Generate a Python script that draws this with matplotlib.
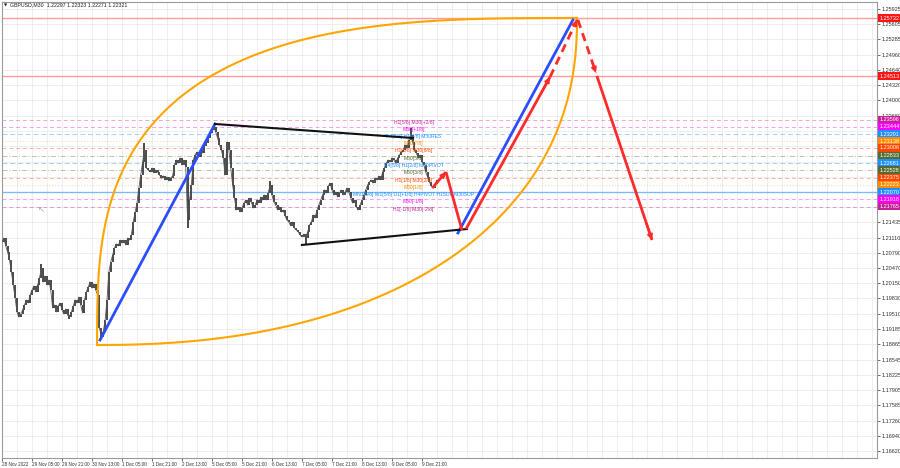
import numpy as np
import matplotlib.pyplot as plt
from matplotlib.transforms import blended_transform_factory

plt.rcParams['font.family'] = ['Liberation Sans', 'DejaVu Sans']

# GBPUSD M30 closes, one per bar
closes = [
    1.21019, 1.21103, 1.20935, 1.20809, 1.20640, 1.20388, 1.20114, 1.19840, 1.19546, 1.19440,
    1.19503, 1.19588, 1.19693, 1.19798, 1.19735, 1.19903, 1.20009, 1.20093, 1.19967, 1.20114,
    1.20261, 1.20472, 1.20177, 1.20303, 1.20114, 1.20219, 1.20009, 1.19630, 1.19693, 1.19546,
    1.19672, 1.19735, 1.19588, 1.19503, 1.19609, 1.19482, 1.19440, 1.19546, 1.19672, 1.19798,
    1.19735, 1.19861, 1.19693, 1.19524, 1.19798, 1.19967, 1.20072, 1.20177, 1.20051, 1.20135,
    1.20009, 1.19903, 1.19209, 1.19019, 1.19124, 1.19377, 1.19798, 1.20388, 1.20598, 1.20746,
    1.20893, 1.20977, 1.20935, 1.21061, 1.20998, 1.21061, 1.20956, 1.21103, 1.21061, 1.21167,
    1.21440, 1.21651, 1.21840, 1.22156, 1.22430, 1.22703, 1.22956, 1.22577, 1.22535, 1.22493,
    1.22577, 1.22472, 1.22535, 1.22493, 1.22430, 1.22367, 1.22409, 1.22325, 1.22388, 1.22303,
    1.22367, 1.22409, 1.22640, 1.22746, 1.22682, 1.22788, 1.22640, 1.22746, 1.22598, 1.21482,
    1.21903, 1.22219, 1.22746, 1.22851, 1.22914, 1.22809, 1.22956, 1.22893, 1.23040, 1.23103,
    1.23209, 1.23314, 1.23377, 1.23440, 1.23335, 1.23209, 1.23061, 1.22956, 1.22788, 1.22430,
    1.23125, 1.22956, 1.22577, 1.22219, 1.21946, 1.21693, 1.21756, 1.21651, 1.21735, 1.21840,
    1.21903, 1.21798, 1.21946, 1.21861, 1.21735, 1.21798, 1.21903, 1.21840, 1.21967, 1.21903,
    1.22009, 1.21903, 1.22051, 1.22219, 1.22009, 1.21861, 1.21798, 1.21693, 1.21756, 1.21651,
    1.21693, 1.21567, 1.21482, 1.21440, 1.21356, 1.21440, 1.21314, 1.21272, 1.21230, 1.21167,
    1.21124, 1.21188, 1.21103, 1.21230, 1.21377, 1.21440, 1.21588, 1.21524, 1.21693, 1.21798,
    1.21903, 1.22009, 1.22114, 1.22051, 1.22198, 1.22261, 1.22114, 1.22009, 1.22072, 1.21967,
    1.22051, 1.22114, 1.22009, 1.22072, 1.22156, 1.22072, 1.21946, 1.21840, 1.21903, 1.21756,
    1.21693, 1.21798, 1.21903, 1.22009, 1.22114, 1.22219, 1.22282, 1.22325, 1.22261, 1.22367,
    1.22325, 1.22409, 1.22325, 1.22493, 1.22577, 1.22682, 1.22746, 1.22703, 1.22788, 1.22746,
    1.22682, 1.22788, 1.22851, 1.22914, 1.22956, 1.23061, 1.22998, 1.23167, 1.23272, 1.23125,
    1.22956, 1.22893, 1.22788, 1.22851, 1.22703, 1.22640, 1.22493, 1.22388, 1.22282, 1.22198,
    1.22156, 1.22240, 1.22321,
]
# wick extremes of a few bars (bar index -> price)
spike_highs = {21: 1.20560, 76: 1.23103, 113: 1.23482, 143: 1.22300, 218: 1.23419}
spike_lows = {36: 1.19400, 53: 1.18999, 99: 1.21314, 162: 1.20956}

time_labels = ["28 Nov 2022", "29 Nov 05:00", "29 Nov 21:00", "30 Nov 13:00", "1 Dec 05:00",
               "1 Dec 21:00", "2 Dec 13:00", "5 Dec 05:00", "5 Dec 21:00", "6 Dec 13:00",
               "7 Dec 05:00", "7 Dec 21:00", "8 Dec 13:00", "9 Dec 05:00", "9 Dec 21:00"]

price_ticks = [1.25925, 1.25605, 1.25285, 1.24960, 1.24640, 1.24320, 1.24000, 1.23680,
               1.23355, 1.23035, 1.22710, 1.22390, 1.22070, 1.21750,
               1.21435, 1.21110, 1.20790, 1.20470, 1.20150, 1.19830, 1.19510, 1.19185,
               1.18865, 1.18545, 1.18225, 1.17905, 1.17585, 1.17260, 1.16940, 1.16620]
hidden_ticks = [1.23355, 1.23035, 1.22710, 1.22390, 1.22070, 1.21750]

# red resistance levels
red_levels = [1.25732, 1.24513]

# Murrey math levels
mm_prices = [1.23596, 1.23444, 1.23291, 1.23138, 1.23006, 1.22833, 1.22681,
             1.22528, 1.22375, 1.22223, 1.22070, 1.21918, 1.21765]
mm_text = ["H1[5/8] M30[+2/8]", "M30[+1/8]", "H4[6/8] H1[4/8] M30RES", "M30[7/8]",
           "H1[3/8] M30[6/8]", "M30[5/8]", "H4[5/8] H1[2/8] M30PIVOT", "M30[3/8]",
           "H1[1/8] M30[2/8]", "M30[1/8]", "MN1[5/8] W1[5/8] D1[+1/8] H4PIVOT H1SUP M30SUP",
           "M30[-1/8]", "H1[-1/8] M30[-2/8]"]
mm_colors = ['#c8209a', '#ff00ff', '#1e90ff', '#ff8c00', '#ff4500', '#556b2f', '#1e90ff',
             '#556b2f', '#ff4500', '#ff8c00', '#1e90ff', '#ff00ff', '#c8209a']
mm_styles = [(0, (4, 3)), (0, (4, 3)), (0, (5, 3)), (0, (1, 2)), (0, (4, 3)), (0, (5, 2, 1, 2)),
             (0, (5, 3)), (0, (5, 2, 1, 2)), (0, (4, 3)), (0, (1, 2)), '-', (0, (4, 3)), (0, (4, 3))]

last_price = 1.22321

# drawn trend lines (bar index, price)
blue_x = [[52.3, 113.6], [243.2, 304.5]]
blue_p = [[1.18957, 1.23504], [1.21209, 1.25693]]
black_x = [[113.6, 219.2], [160.0, 248.0]]
black_p = [[1.23504, 1.23209], [1.20957, 1.21293]]

# red forecast legs: start, end, dashed, arrow head
red_x0 = [229.5, 236.8, 247.5, 292.3, 307.2, 317.3]
red_p0 = [1.22156, 1.22493, 1.21293, 1.24493, 1.25693, 1.24515]
red_x1 = [236.8, 245.3, 292.3, 306.7, 316.8, 346.7]
red_p1 = [1.22493, 1.21272, 1.24493, 1.25693, 1.24578, 1.21062]
red_dash = [False, False, False, True, True, False]
red_head = [True, False, True, True, True, True]

# orange arc corners
arc_x = [50.7, 306.7]
arc_p = [1.18851, 1.25736]

fig = plt.figure(figsize=(9, 4.68), dpi=100)
ax = fig.add_axes([2 / 900, 10 / 468, 875 / 900, 456 / 468])
ax.set_xlim(0, 466.7)
ax.set_ylim(1.16472, 1.26072)

# grid
ax.set_xticks(np.arange(0, 15 * 16, 16))
ax.set_xticklabels(time_labels)
ax.set_xticks(np.arange(0, 467, 8), minor=True)
ax.set_yticks(price_ticks)
ax.set_yticklabels(['' if t in hidden_ticks else f'{t:.5f}' for t in price_ticks])
ax.yaxis.tick_right()
ax.grid(True, which='both', axis='x', color='#ebebeb', lw=0.6)
ax.grid(True, which='major', axis='y', color='#ebebeb', lw=0.6)
ax.set_axisbelow(True)
ax.tick_params(axis='x', which='major', labelsize=3.3, length=2, pad=1, colors='#333333', width=0.5)
ax.tick_params(axis='x', which='minor', length=0)
ax.tick_params(axis='y', labelsize=4, length=2, pad=1, colors='#333333', width=0.5)
for lab in ax.get_xticklabels():
    lab.set_ha('left')
for s in ax.spines.values():
    s.set_color('#9a9a9a')
    s.set_linewidth(0.8)

trans = blended_transform_factory(ax.transAxes, ax.transData)

# horizontal levels
for p in red_levels:
    ax.axhline(p, color='#ff9c9c', lw=1.0, zorder=1)
for p, c, ls in zip(mm_prices, mm_colors, mm_styles):
    solid = ls == '-'
    ax.axhline(p, color=c, lw=1.0 if solid else 0.7, ls=ls, alpha=0.55 if solid else 0.4, zorder=1)

# price bars
closes_arr = np.array(closes)
opens = np.concatenate([[closes_arr[0]], closes_arr[:-1]])
lows = np.minimum(opens, closes_arr)
highs = np.maximum(opens, closes_arr)
for k, v in spike_highs.items():
    highs[k] = max(highs[k], v)
for k, v in spike_lows.items():
    lows[k] = min(lows[k], v)
idx = np.arange(len(closes))
ax.vlines(idx, lows, highs, color='#3c3c3c', lw=1.3, zorder=3)
ax.plot(idx, closes_arr, color='#555555', lw=0.6, zorder=3)

# murrey labels
for p, t, c in zip(mm_prices, mm_text, mm_colors):
    ax.text(219.5, p, t, color=c, fontsize=3.6, ha='center', va='top', zorder=4)

# orange arcs
t = np.linspace(0, np.pi / 2, 200)
dx = arc_x[1] - arc_x[0]
dp = arc_p[1] - arc_p[0]
u_up = 1 - np.cos(t) ** (2 / 3.0)
v_up = np.sin(t) ** (2 / 3.0)
ax.plot(arc_x[0] + u_up * dx, arc_p[0] + v_up * dp, color='#ffa500', lw=1.5, zorder=5)
u_lo = np.cos(t) ** (2 / 2.25)
v_lo = 1 - np.sin(t) ** (2 / 2.25)
ax.plot(arc_x[0] + u_lo * dx, arc_p[0] + v_lo * dp, color='#ffa500', lw=1.5, zorder=5)

# trend lines
for xs, ps in zip(blue_x, blue_p):
    ax.plot(xs, ps, color='#2a4dff', lw=2, zorder=6)
for xs, ps in zip(black_x, black_p):
    ax.plot(xs, ps, color='#111111', lw=1.5, zorder=6)

# red forecast arrows
for x0, p0, x1, p1, d, h in zip(red_x0, red_p0, red_x1, red_p1, red_dash, red_head):
    ax.plot([x0, x1], [p0, p1], color='#ff2a2a', lw=2, ls=(0, (3, 2)) if d else '-',
            zorder=7, solid_capstyle='butt')
    if h:
        fx = x0 + (x1 - x0) * 0.9
        fp = p0 + (p1 - p0) * 0.9
        ax.annotate('', xy=(x1, p1), xytext=(fx, fp),
                    arrowprops=dict(arrowstyle='-|>', color='#ff2a2a', lw=1.5,
                                    mutation_scale=7, shrinkA=0, shrinkB=0), zorder=7)

# right side price boxes
box_kw = dict(fontsize=4, color='white', ha='left', va='center', transform=trans, clip_on=False)
ax.text(1.0025, last_price, f'{last_price:.5f}',
        bbox=dict(boxstyle='square,pad=0.25', fc='#000000', ec='none'), zorder=8, **box_kw)
for p in red_levels:
    ax.text(1.0025, p, f'{p:.5f}', bbox=dict(boxstyle='square,pad=0.25', fc='#ff1414', ec='none'),
            zorder=9, **box_kw)
for p, c in zip(mm_prices, mm_colors):
    ax.text(1.0025, p, f'{p:.5f}', bbox=dict(boxstyle='square,pad=0.25', fc=c, ec='none'),
            zorder=9, **box_kw)

# title
ax.text(0.002, 0.993, '▼', transform=ax.transAxes, fontsize=3, color='#222222',
        va='center', ha='left', family='DejaVu Sans')
ax.text(0.009, 0.993, 'GBPUSD,M30  1.22297 1.22323 1.22271 1.22321', transform=ax.transAxes,
        fontsize=3.8, color='#222222', va='center', ha='left')
# mouse cursor
ax.text(21, 1.2170, '↖', fontsize=6, color='#a0a0a0', ha='center', va='center',
        family='DejaVu Sans')

fig.savefig('out.png', dpi=100)
